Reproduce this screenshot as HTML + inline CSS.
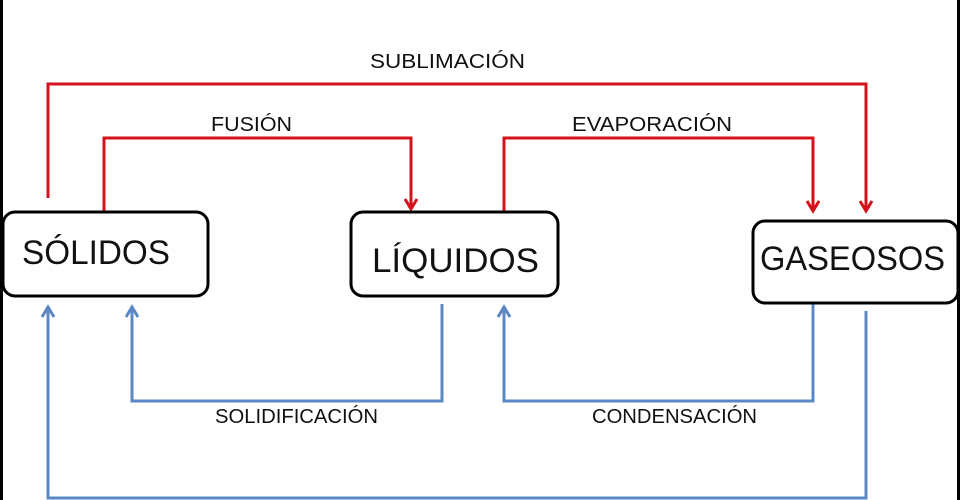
<!DOCTYPE html>
<html><head><meta charset="utf-8"><style>
html,body{margin:0;padding:0;background:#fff;}
svg{display:block;}
text{font-family:"Liberation Sans",sans-serif;fill:#111;}
</style></head><body>
<svg width="960" height="500" viewBox="0 0 960 500" xmlns="http://www.w3.org/2000/svg">
<rect x="0" y="0" width="960" height="500" fill="#fff"/>
<rect x="0" y="0" width="3" height="500" fill="#000"/>
<rect x="957" y="0" width="3" height="500" fill="#000"/>
<g fill="none" stroke="#d4121c" stroke-width="3">
<polyline points="48,198 48,84 866,84 866,210"/>
<polyline points="104,212 104,138 411,138 411,208"/>
<polyline points="504,212 504,138 813,138 813,210"/>
<polyline points="405,199 411,209 417,199"/>
<polyline points="807,201 813,211 819,201"/>
<polyline points="860,201 866,211 872,201"/>
</g>
<g fill="none" stroke="#5b88c4" stroke-width="3">
<polyline points="442,304 442,401 132,401 132,308"/>
<polyline points="813,303 813,401 504,401 504,308"/>
<polyline points="866,311 866,498 48,498 48,308"/>
<polyline points="126,317 132,307 138,317"/>
<polyline points="498,317 504,307 510,317"/>
<polyline points="42,317 48,307 54,317"/>
</g>
<g fill="#fff" stroke="#000" stroke-width="3">
<rect x="3" y="212" width="205" height="84" rx="12"/>
<rect x="351" y="212" width="207" height="84" rx="12"/>
<rect x="753" y="221" width="205" height="82" rx="12"/>
</g>
<g font-size="34">
<text x="22" y="264" textLength="148" lengthAdjust="spacingAndGlyphs">SÓLIDOS</text>
<text x="372" y="272" textLength="167" lengthAdjust="spacingAndGlyphs">LÍQUIDOS</text>
<text x="760" y="270" textLength="185" lengthAdjust="spacingAndGlyphs">GASEOSOS</text>
</g>
<g font-size="20">
<text x="370" y="68" textLength="155" lengthAdjust="spacingAndGlyphs">SUBLIMACIÓN</text>
<text x="211" y="131" textLength="81" lengthAdjust="spacingAndGlyphs">FUSIÓN</text>
<text x="572" y="131" textLength="160" lengthAdjust="spacingAndGlyphs">EVAPORACIÓN</text>
<text x="215" y="423" textLength="163" lengthAdjust="spacingAndGlyphs">SOLIDIFICACIÓN</text>
<text x="592" y="423" textLength="165" lengthAdjust="spacingAndGlyphs">CONDENSACIÓN</text>
</g>
</svg>
</body></html>
